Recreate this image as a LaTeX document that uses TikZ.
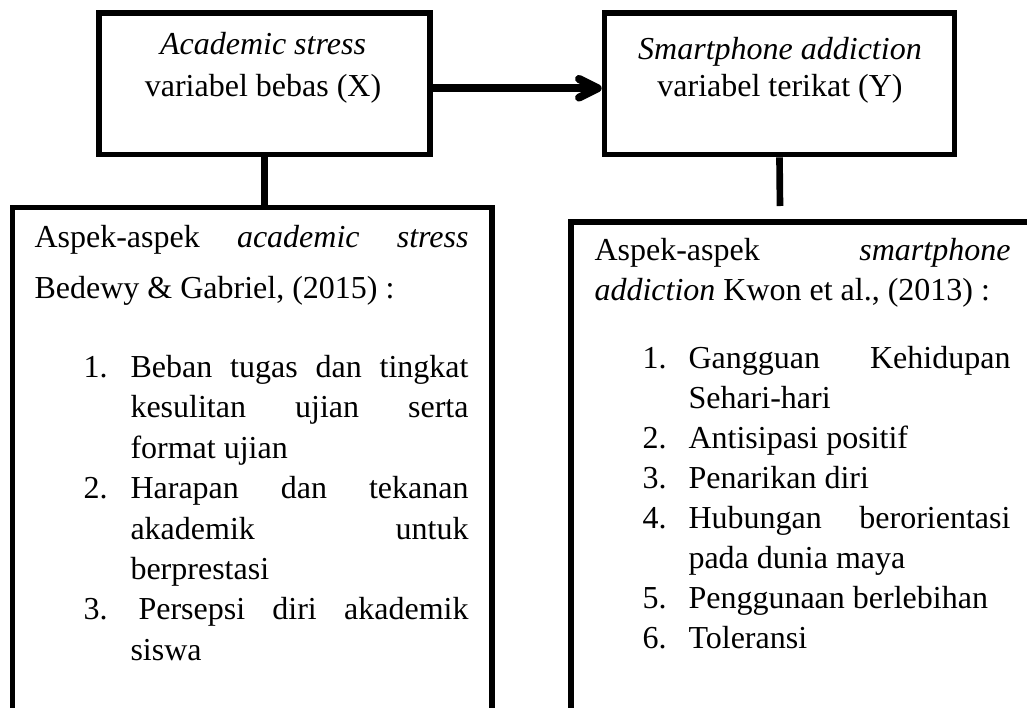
\documentclass[tikz,border=0pt]{standalone}
\usepackage{fontspec}
\setmainfont{Liberation Serif}
\usetikzlibrary{arrows.meta}
\newlength{\px}
\setlength{\px}{0.375pt}

\begin{document}
\begin{tikzpicture}[x=0.375pt, y=-0.375pt, font=\fontsize{12pt}{14pt}\selectfont,
    box/.style={draw, line width=2.1pt, inner sep=0pt},
    link/.style={line width=2.5pt},
    flow/.style={line width=3pt, -{Straight Barb[length=7pt, width=7pt, round]}},
    txt/.style={anchor=base west, inner sep=0pt},
    mid/.style={anchor=base, inner sep=0pt}]
        \useasboundingbox (0,0) rectangle (1027,708);
        \clip (0,0) rectangle (1027,708);
        % Variable boxes
        \node[box, minimum width=331\px, minimum height=141.5\px] (X) at (264.5,83.75) {};
        \node[box, minimum width=350\px, minimum height=141.5\px] (Y) at (779.5,83.75) {};
        \node[mid] (xt1) at (263,54) {\textit{Academic stress}};
        \node[mid] (xt2) at (263,96) {variabel bebas (X)};
        \node[mid] (yt1) at (780,59) {\textit{Smartphone addiction}};
        \node[mid] (yt2) at (780,96) {variabel terikat (Y)};
        % Aspect boxes (cut by the page edge)
        \node[box, minimum width=479.5\px, minimum height=532.5\px] (L) at (252.25,473.75) {};
        \node[box, minimum width=489\px, minimum height=518\px] (R) at (815.5,481) {};
        % Connectors
        \draw[flow] ([yshift=-4.5\px]X.east) -- ([yshift=-4.5\px]Y.west);
        \draw[link] (X.south) -- (X.south |- L.north);
        \coordinate (yend) at (780,206);
        \draw[link] (Y.south) -- (yend);
        % Academic stress aspects
        \node[txt] (la1) at (34,247) {\makebox[434\px][s]{Aspek-aspek \textit{academic} \textit{stress}}};
        \node[txt] (la2) at (34,298) {Bedewy \& Gabriel, (2015) :};
        \node[txt] (ln1) at (83,377) {1.};
        \node[txt] (li1) at (130,377) {\makebox[338\px][s]{Beban tugas dan tingkat}};
        \node[txt] (li2) at (130,417) {\makebox[338\px][s]{kesulitan ujian serta}};
        \node[txt] (li3) at (130,458) {format ujian};
        \node[txt] (ln2) at (83,498) {2.};
        \node[txt] (li4) at (130,498) {\makebox[338\px][s]{Harapan dan tekanan}};
        \node[txt] (li5) at (130,539) {\makebox[338\px][s]{akademik untuk}};
        \node[txt] (li6) at (130,579) {berprestasi};
        \node[txt] (ln3) at (83,619) {3.};
        \node[txt] (li7) at (138,619) {\makebox[330\px][s]{Persepsi diri akademik}};
        \node[txt] (li8) at (130,660) {siswa};
        % Smartphone addiction aspects
        \node[txt] (ra1) at (594,260) {\makebox[416\px][s]{Aspek-aspek \textit{smartphone}}};
        \node[txt] (ra2) at (594,300) {\textit{addiction} Kwon et al., (2013) :};
        \node[txt] (rn1) at (642,368) {1.};
        \node[txt] (ri1) at (688,368) {\makebox[322\px][s]{Gangguan Kehidupan}};
        \node[txt] (ri2) at (688,408) {Sehari-hari};
        \node[txt] (rn2) at (642,448) {2.};
        \node[txt] (ri3) at (688,448) {Antisipasi positif};
        \node[txt] (rn3) at (642,488) {3.};
        \node[txt] (ri4) at (688,488) {Penarikan diri};
        \node[txt] (rn4) at (642,528) {4.};
        \node[txt] (ri5) at (688,528) {\makebox[322\px][s]{Hubungan berorientasi}};
        \node[txt] (ri6) at (688,568) {pada dunia maya};
        \node[txt] (rn5) at (642,608) {5.};
        \node[txt] (ri7) at (688,608) {Penggunaan berlebihan};
        \node[txt] (rn6) at (642,648) {6.};
        \node[txt] (ri8) at (688,648) {Toleransi};
\end{tikzpicture}
\end{document}
